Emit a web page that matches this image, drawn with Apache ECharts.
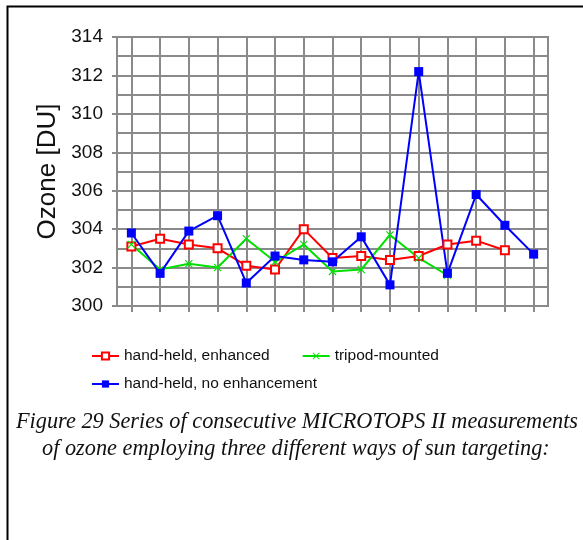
<!DOCTYPE html>
<html>
<head>
<meta charset="utf-8">
<script src="https://cdn.jsdelivr.net/npm/echarts@6/dist/echarts.min.js"></script>
<style>
  html, body { margin: 0; padding: 0; background: #fff; }
  #chart { width: 583px; height: 540px; }
</style>
</head>
<body>
<div id="chart"></div>
<script>
// measurement number 1..15
var measurements = ['1','2','3','4','5','6','7','8','9','10','11','12','13','14','15'];

// ozone [DU]
var handHeldEnhanced = [303.1, 303.5, 303.2, 303.0, 302.1, 301.9, 304.0, 302.5, 302.6, 302.4, 302.6, 303.2, 303.4, 302.9];
var tripodMounted    = [303.2, 301.9, 302.2, 302.0, 303.5, 302.3, 303.2, 301.8, 301.9, 303.7, 302.5, 301.6];
var handHeldNoEnh    = [303.8, 301.7, 303.9, 304.7, 301.2, 302.6, 302.4, 302.3, 303.6, 301.1, 312.2, 301.7, 305.8, 304.2, 302.7];

var yTicks = { min: 300, max: 314, step: 2 };

var gridGray = '#8a8a8a';
var captionFont = { fontFamily: 'Liberation Serif, Times New Roman, serif', fontStyle: 'italic', fontWeight: 'normal', fontSize: 22.3, color: '#111' };
var crossSymbol = 'path://M0,1L1,0L5,4L9,0L10,1L6,5L10,9L9,10L5,6L1,10L0,9L4,5Z';

var chart = echarts.init(document.getElementById('chart'));
chart.setOption({
  animation: false,
  backgroundColor: '#fff',
  textStyle: { fontFamily: 'Liberation Sans, Arial, sans-serif' },
  graphic: [{
    // the page frame round the figure
    type: 'rect',
    left: 5, top: 4,
    shape: { width: 640, height: 600 },
    style: { fill: 'none', stroke: '#000', lineWidth: 2 },
    silent: true
  }],
  title: [{
    text: 'Figure 29 Series of consecutive MICROTOPS II measurements',
    left: 16, top: 411,
    padding: 0,
    textStyle: captionFont
  }, {
    text: 'of ozone employing three different ways of sun targeting:',
    left: 42, top: 438,
    padding: 0,
    textStyle: captionFont
  }],
  legend: [{
    data: ['hand-held, enhanced', 'tripod-mounted'],
    left: 91, top: 348,
    padding: 0,
    itemWidth: 27, itemHeight: 9, itemGap: 32,
    selectedMode: false,
    textStyle: { fontSize: 15.5, color: '#111' }
  }, {
    data: ['hand-held, no enhancement'],
    left: 91, top: 376,
    padding: 0,
    itemWidth: 27, itemHeight: 9,
    selectedMode: false,
    textStyle: { fontSize: 15.5, color: '#111' }
  }],
  grid: {
    left: 117, top: 37, right: 35, bottom: 234,
    show: true, borderColor: gridGray, borderWidth: 2,
    containLabel: false
  },
  xAxis: {
    type: 'category',
    data: measurements,
    boundaryGap: true,
    axisLine: { lineStyle: { color: gridGray, width: 2 } },
    axisTick: { show: true, alignWithLabel: true, length: 6, lineStyle: { color: gridGray, width: 2 } },
    axisLabel: { show: false },
    splitLine: { show: true, alignWithLabel: true, lineStyle: { color: gridGray, width: 2 } }
  },
  yAxis: {
    type: 'value',
    min: yTicks.min, max: yTicks.max, interval: yTicks.step,
    name: 'Ozone [DU]',
    nameLocation: 'middle',
    nameGap: 46,
    nameTextStyle: { fontSize: 26, color: '#111' },
    axisLine: { show: true, lineStyle: { color: gridGray, width: 2 } },
    axisTick: { show: true, length: 5, lineStyle: { color: gridGray, width: 2 } },
    axisLabel: { fontSize: 19, color: '#111', margin: 14 },
    splitLine: { show: true, lineStyle: { color: gridGray, width: 2 } },
    minorTick: { show: false, splitNumber: 2 },
    minorSplitLine: { show: true, lineStyle: { color: gridGray, width: 2 } }
  },
  series: [{
    name: 'hand-held, enhanced',
    type: 'line',
    data: handHeldEnhanced,
    symbol: 'emptyRect',
    symbolSize: 8,
    color: '#ff0000',
    lineStyle: { width: 2 },
    itemStyle: { borderWidth: 1.2 }
  }, {
    name: 'tripod-mounted',
    type: 'line',
    data: tripodMounted,
    symbol: crossSymbol,
    symbolSize: 8,
    color: '#00e000',
    lineStyle: { width: 2 }
  }, {
    name: 'hand-held, no enhancement',
    type: 'line',
    data: handHeldNoEnh,
    symbol: 'rect',
    symbolSize: 9,
    color: '#0000ff',
    lineStyle: { width: 2 }
  }]
});
</script>
</body>
</html>
